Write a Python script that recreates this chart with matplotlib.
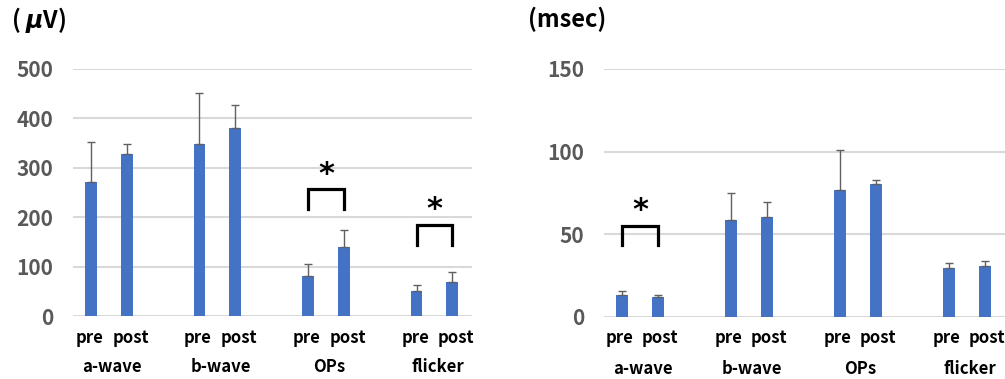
import numpy as np
import matplotlib.pyplot as plt

plt.rcParams['font.family'] = ['Noto Sans CJK JP', 'DejaVu Sans']
plt.rcParams['mathtext.fontset'] = 'custom'
plt.rcParams['mathtext.it'] = 'DejaVu Sans:italic:bold'

# --- data ---
groups = ['a-wave', 'b-wave', 'OPs', 'flicker']
phases = ['pre', 'post']

amp_pre = [271, 348, 80, 50]
amp_post = [327, 380, 139, 68]
amp_pre_err = [81, 104, 26, 13]
amp_post_err = [22, 48, 36, 21]

lat_pre = [13.5, 58.9, 76.6, 29.8]
lat_post = [12.3, 60.3, 80.3, 30.7]
lat_pre_err = [2.0, 16.3, 24.2, 2.9]
lat_post_err = [1.2, 9.3, 2.8, 3.2]

# significance brackets: (group index, top, leg bottom, star y)
amp_sig = [(2, 257, 216, 286), (3, 184, 144, 215)]
lat_sig = [(0, 55.2, 43.5, 64.5)]

BLUE = '#4472C4'
GREY_TXT = '#595959'
GRID = '#D9D9D9'


def panel(ax, pre, post, pre_err, post_err, ymax, ystep, unit, unit_x, sig,
          offs=(-0.04, 0.11, 0.1)):
    n = len(groups)
    x_pre = np.arange(n) * 3.03
    x_post = x_pre + 1.0
    w = 0.33
    ax.bar(x_pre, pre, width=w, color=BLUE, zorder=2)
    ax.bar(x_post, post, width=w, color=BLUE, zorder=2)
    ax.errorbar(x_pre, pre, yerr=[np.zeros(n), pre_err], fmt='none',
                ecolor='#606060', elinewidth=1, capsize=3, capthick=1, zorder=3)
    ax.errorbar(x_post, post, yerr=[np.zeros(n), post_err], fmt='none',
                ecolor='#606060', elinewidth=1, capsize=3, capthick=1, zorder=3)

    ax.set_xlim(-0.5, x_post[-1] + 0.55)
    ax.set_ylim(0, ymax)
    ax.set_yticks(np.arange(0, ymax + 1, ystep))
    ax.yaxis.grid(True, color=GRID, linewidth=1.5, zorder=0)
    ax.set_axisbelow(True)
    for s in ax.spines.values():
        s.set_visible(False)
    ax.tick_params(axis='y', length=0, pad=14, labelsize=15, labelcolor=GREY_TXT)
    for t in ax.get_yticklabels():
        t.set_fontweight('bold')

    # pre/post labels sit a little off the bar centres, as in the source
    xt = np.ravel(np.column_stack([x_pre + offs[0], x_post + offs[1]]))
    ax.set_xticks(xt)
    ax.set_xticklabels(phases * n, fontsize=12, fontweight='bold')
    ax.tick_params(axis='x', length=0, pad=9)

    trans = ax.get_xaxis_transform()
    for i, g in enumerate(groups):
        ax.text((x_pre[i] + x_post[i]) / 2 + offs[2], -0.208, g, transform=trans,
                ha='center', va='center', fontsize=12, fontweight='bold')

    for gi, top, bot, sy in sig:
        a, b = x_pre[gi], x_post[gi]
        ax.plot([a, a, b, b], [bot, top, top, bot], color='black', lw=2.3,
                solid_joinstyle='miter', clip_on=False, zorder=4)
        ax.text((a + b) / 2, sy, '*', ha='center', va='center', fontsize=22,
                fontweight='bold', family='DejaVu Sans', clip_on=False)

    ax.text(unit_x, 1.2, unit, transform=ax.transAxes, ha='left', va='center',
            fontsize=17, fontweight='bold')


fig = plt.figure(figsize=(10.05, 3.79), dpi=100)
ax1 = fig.add_axes([0.0726, 0.1662, 0.3971, 0.6518])
ax2 = fig.add_axes([0.601, 0.1636, 0.399, 0.6544])

panel(ax1, amp_pre, amp_post, amp_pre_err, amp_post_err, 500, 100,
      '( $\\mu$V)', -0.155, amp_sig)
panel(ax2, lat_pre, lat_post, lat_pre_err, lat_post_err, 150, 50,
      '(msec)', -0.19, lat_sig, offs=(-0.08, 0.04, 0.07))

fig.savefig('out.png', dpi=100)
